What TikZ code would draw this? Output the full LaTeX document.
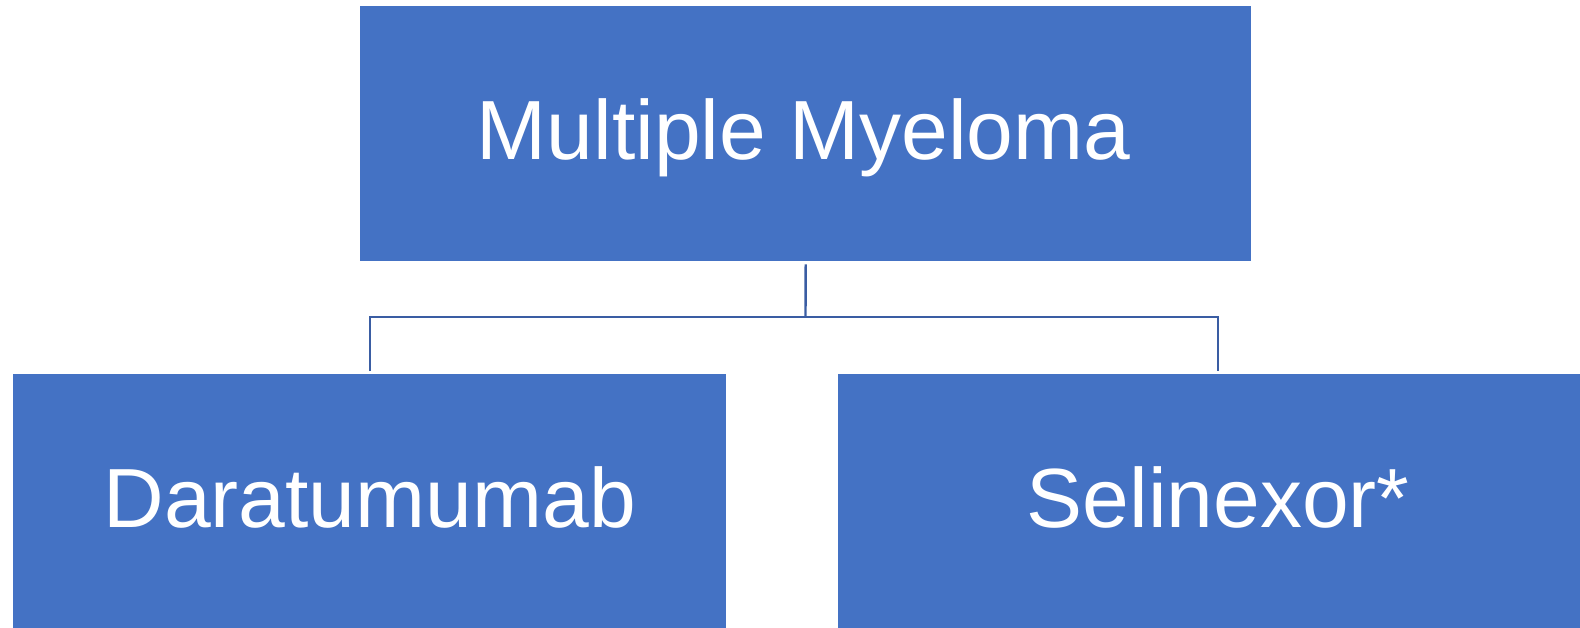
\documentclass[tikz,border=0pt]{standalone}
\usepackage{fontspec}
\setmainfont{Liberation Sans}
\definecolor{boxblue}{HTML}{4472C4}
\definecolor{linkblue}{HTML}{3A5DA3}
\begin{document}
\begin{tikzpicture}[x=1pt,y=-1pt,
  box/.style={fill=boxblue, draw=none, inner sep=0pt, anchor=north west},
  lbl/.style={text=white, font=\fontsize{84}{100}\selectfont, anchor=base, inner sep=0pt},
  link/.style={draw=linkblue, line width=2.4pt}]
  \useasboundingbox (0,0) rectangle (1580,627);
  \clip (0,0) rectangle (1580,627);

  % boxes
  \node[box, minimum width=891pt, minimum height=255pt] (mm) at (360,6) {};
  \node[box, minimum width=713pt, minimum height=255pt] (dara) at (13,374) {};
  \node[box, minimum width=760pt, minimum height=255pt] (seli) at (838,374) {};

  % labels
  \node[lbl] (mmt) at ([xshift=-2pt,yshift=-25.5pt]mm.center) {Multiple Myeloma};
  \node[lbl] (darat) at ([yshift=-25.5pt]dara.center) {Daratumumab};
  \node[lbl] (selit) at ([yshift=-25.5pt]seli.center) {Selinexor*};

  % connector
  \coordinate (fork) at (805.5,317);
  \draw[link] ([yshift=-3pt]mm.south) -- (fork);
  \draw[link] ([yshift=3pt]dara.north) |- (fork) -| ([yshift=3pt]seli.north);
\end{tikzpicture}
\end{document}
